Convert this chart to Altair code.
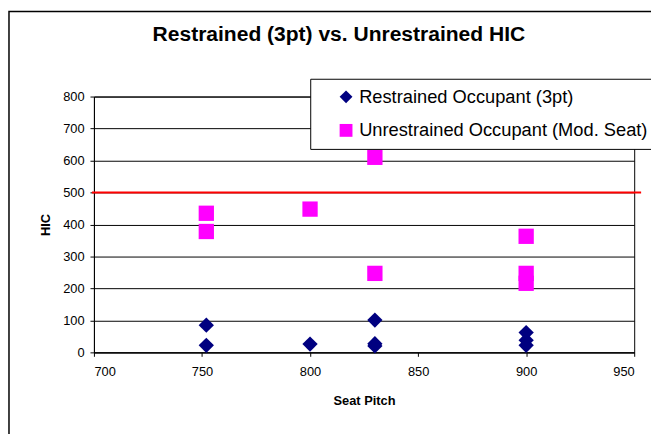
import altair as alt
import pandas as pd

# ---- data ----
chart_title = ["Restrained (3pt) vs. Unrestrained HIC"]
series_names = ["Restrained Occupant (3pt)", "Unrestrained Occupant (Mod. Seat)"]
series_colors = ["#000080", "#FF00FF"]
series_shapes = ["diamond", "square"]

restrained_pitch = [752, 752, 800, 830, 830, 830, 900, 900, 900]
restrained_hic = [85, 22, 26, 101, 20, 27, 62, 38, 22]

unrestrained_pitch = [752, 752, 800, 830, 830, 900, 900, 900]
unrestrained_hic = [435, 378, 448, 610, 247, 363, 247, 216]

hic_limit = [500]
x_ticks = [700, 750, 800, 850, 900, 950]
y_ticks = [0, 100, 200, 300, 400, 500, 600, 700, 800]

rows = []
for p, h in zip(restrained_pitch, restrained_hic):
    rows.append({"pitch": p, "hic": h, "series": series_names[0]})
for p, h in zip(unrestrained_pitch, unrestrained_hic):
    rows.append({"pitch": p, "hic": h, "series": series_names[1]})
df = pd.DataFrame(rows)

W, H = 547, 259
FONT = "Liberation Sans"

y_scale = alt.Scale(domain=[0, 800], nice=False)
y_axis = alt.Axis(values=y_ticks, title="HIC", grid=True, labelPadding=6,
                  titlePadding=10, labelOverlap=False)
x_scale = alt.Scale(domain=[700, 950], nice=False, zero=False)
x_axis = alt.Axis(values=x_ticks, title="Seat Pitch", grid=False,
                  labelPadding=9, titlePadding=17, labelOverlap=False)

points = alt.Chart(df).mark_point(filled=True, size=240, opacity=1, strokeWidth=0).encode(
    x=alt.X("pitch:Q", scale=x_scale, axis=x_axis),
    y=alt.Y("hic:Q", scale=y_scale, axis=y_axis),
    color=alt.Color("series:N",
                    scale=alt.Scale(domain=series_names, range=series_colors),
                    legend=alt.Legend(title=None)),
    shape=alt.Shape("series:N",
                    scale=alt.Scale(domain=series_names, range=series_shapes),
                    legend=alt.Legend(title=None)),
)

limit_rule = alt.Chart(pd.DataFrame({"hic": hic_limit})).mark_rule(
    color="#FF0000", strokeWidth=2
).encode(
    y=alt.Y("hic:Q", scale=y_scale, axis=y_axis),
    x=alt.value(-2),
    x2=alt.value(W + 7),
)

frame = alt.Chart(pd.DataFrame({"f": [0]})).mark_rect(
    filled=False, stroke="black", strokeWidth=1.5
).encode(
    x=alt.value(-86), x2=alt.value(W + 60),
    y=alt.value(-86), y2=alt.value(H + 120),
)

title_text = alt.Chart(pd.DataFrame({"t": chart_title})).mark_text(
    font=FONT, fontSize=21.3, fontWeight="bold", color="black",
    align="center", baseline="alphabetic",
).encode(
    text="t:N",
    x=alt.value(248),
    y=alt.value(-56),
)

chart = alt.layer(frame, points, limit_rule, title_text).properties(
    width=W,
    height=H,
    autosize=alt.AutoSizeParams(type="none"),
    padding={"left": 87, "top": 87, "right": 17, "bottom": 80},
).configure_view(
    stroke="black", strokeWidth=1
).configure_axis(
    domainColor="black", tickColor="black", gridColor="black", gridOpacity=1,
    gridWidth=1, tickSize=4, labelColor="black", titleColor="black",
    labelFont=FONT, labelFontSize=13, titleFont=FONT, titleFontSize=13,
    titleFontWeight="bold",
).configure_legend(
    orient="none", legendX=219, legendY=-18,
    padding=9, rowPadding=15, fillColor="white", strokeColor="black",
    labelFont=FONT, labelFontSize=18.5, labelColor="black", labelOffset=4,
    symbolSize=169, symbolOffset=18, symbolStrokeWidth=0, labelLimit=400,
)

chart.save("out.html", embed_options={"renderer": "svg", "actions": False})
